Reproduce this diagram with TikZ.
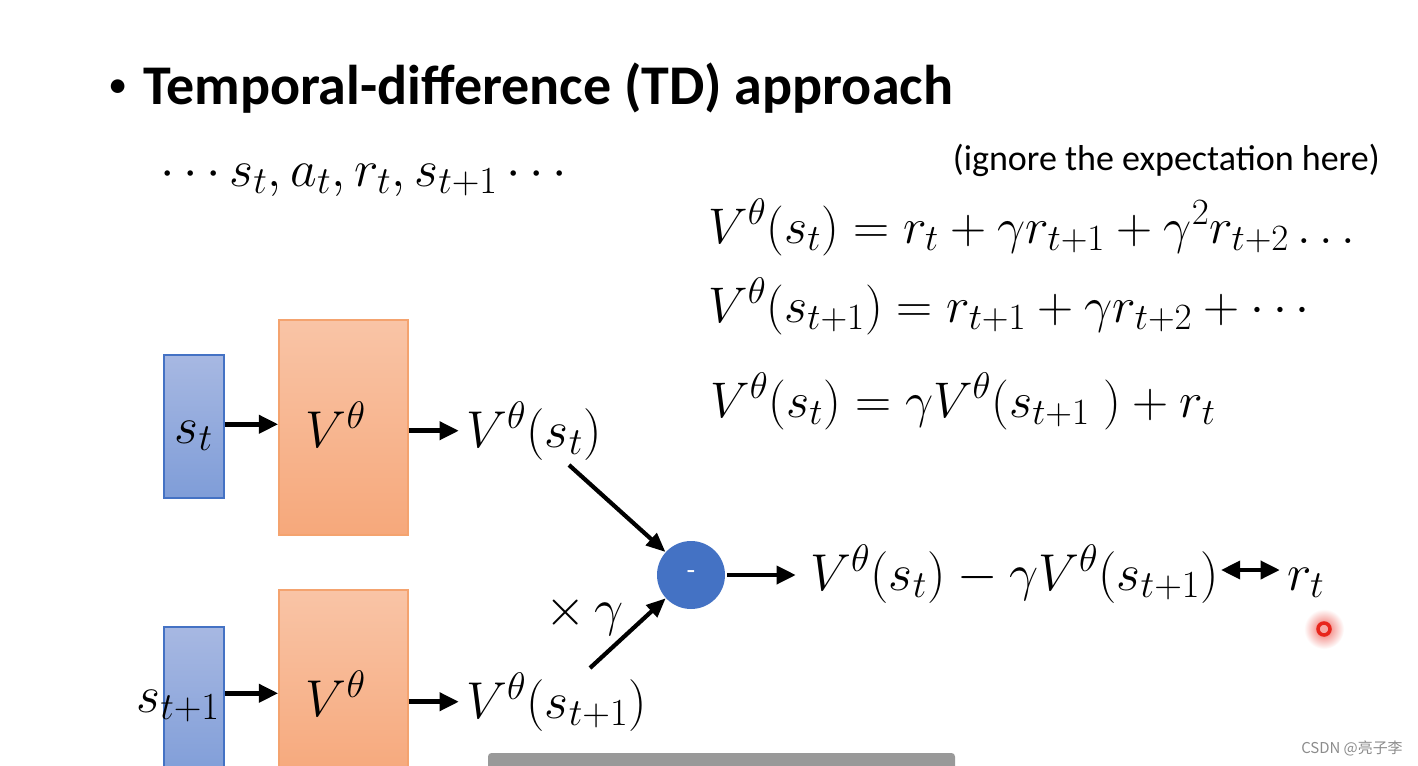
\RequirePackage{fix-cm}
\documentclass[tikz,border=0pt]{standalone}
\usepackage{fontspec}
\setmainfont{Carlito}
\newfontfamily\cjkfont{Noto Sans CJK SC}
\usetikzlibrary{arrows.meta,fit}
\renewcommand\defaultscriptratio{.74}
\definecolor{blueTop}{HTML}{A7B8E2}
\definecolor{blueBot}{HTML}{7F9DD8}
\definecolor{blueBorder}{HTML}{4472C4}
\definecolor{orangeTop}{HTML}{F9C4A6}
\definecolor{orangeBot}{HTML}{F6A87B}
\definecolor{orangeBorder}{HTML}{F4A36F}
\definecolor{barGray}{HTML}{999999}
\definecolor{wmGray}{HTML}{8C8C8C}
\definecolor{dotRed}{HTML}{E8261C}
\begin{document}
\begin{tikzpicture}[x=0.02cm,y=-0.02cm,
  mt/.style={inner sep=0pt, font=\fontsize{29.5}{34}\selectfont, anchor=base west},
  eqt/.style={inner sep=0pt, font=\fontsize{28.5}{34}\selectfont, anchor=base west},
  bluebox/.style={draw=blueBorder, line width=0.8pt, top color=blueTop, bottom color=blueBot, inner sep=0pt},
  orangebox/.style={draw=orangeBorder, line width=0.8pt, top color=orangeTop, bottom color=orangeBot, inner sep=0pt},
  arr/.style={line width=2.8pt, -{Triangle[length=11pt,width=10pt]}},
  darr/.style={line width=2.8pt, {Triangle[length=11pt,width=10pt]}-{Triangle[length=11pt,width=10pt]}},
  diag/.style={line width=2.4pt, -{Triangle[length=11pt,width=9pt]}}]
\useasboundingbox (0,0) rectangle (1418,765);
\clip (0,0) rectangle (1418,765);
\fill[white] (0,0) rectangle (1418,765);

% title
\node[anchor=center, inner sep=0pt, font=\fontsize{22}{26}\selectfont] (bul) at (118,89) {•};
\node[anchor=base west, inner sep=0pt, font=\bfseries\fontsize{31.9}{38}\selectfont] (title) at (143,104) {Temporal-difference (TD) approach};
\node[mt, font=\fontsize{29.5}{34}\selectfont] (seq) at (160,186) {$\cdots s_t, a_t, r_t, s_{t+1} \cdots$};
\node[anchor=base east, inner sep=0pt, font=\fontsize{20.5}{24}\selectfont] (ign) at (1380,170) {(ignore the expectation here)};

% equations
\node[eqt] (eq1) at (708,243) {$V^\theta(s_t) = r_t + \gamma r_{t+1} + \gamma^2 r_{t+2} \ldots$};
\node[eqt] (eq2) at (708,322) {$V^\theta(s_{t+1}) = r_{t+1} + \gamma r_{t+2} + \cdots$};
\node[eqt] (eq3) at (710,417) {$V^\theta(s_t) = \gamma V^\theta(s_{t+1}\;) + r_t$};

% top row
\node[bluebox, fit={(164,355)(224,498)}] (b1) {};
\node[orangebox, fit={(279,320)(408,535)}] (o1) {};
\node[mt, anchor=base] (stl) at (194,443) {$s_t$};
\node[mt, anchor=base] (vl1) at (336,447) {$V^\theta$};
\node[mt] (vst) at (466,447) {$V^\theta(s_t)$};

% bottom row
\node[bluebox, fit={(164,627)(224,780)}] (b2) {};
\node[orangebox, fit={(279,590)(408,780)}] (o2) {};
\node[mt, anchor=base] (vl2) at (336,716) {$V^\theta$};
\node[mt] (vst1) at (466,718) {$V^\theta(s_{t+1})$};
\node[mt, anchor=base west] (stl2) at (136,712) {$s_{t+1}$};

% arrows
\draw[arr] (b1.east |- vl1.center) -- (o1.west |- vl1.center);
\draw[arr] (o1.east |- vst.center) -- ([xshift=-4pt]vst.west);
\draw[arr] (b2.east |- vl2.center) -- (o2.west |- vl2.center);
\draw[arr] (o2.east |- vst1.center) -- ([xshift=-4pt]vst1.west);

% minus node
\node[circle, fill=blueBorder, minimum size=1.36cm, inner sep=0pt, text=white, font=\fontsize{16}{18}\selectfont] (minus) at (691,575) {-};
\coordinate (d1) at (569,465);
\coordinate (d2) at (590,668);
\draw[diag] (d1) -- (minus);
\draw[diag] (d2) -- (minus);
\node[mt] (xg) at (545,625) {$\times\,\gamma$};

\node[mt] (diff) at (810,590) {$V^\theta(s_t) - \gamma V^\theta(s_{t+1})$};
\node[mt] (rt) at (1287,590) {$r_t$};
\draw[arr, shorten <=1pt] (minus.east) -- ([xshift=-8pt]diff.west |- minus.center);
\draw[darr] ([xshift=1pt]diff.east |- 0,570) -- ([xshift=-4pt]rt.west |- 0,570);

% laser pointer dot
\shade[inner color=dotRed!70, outer color=white] (1324,629) circle (20);
\draw[dotRed, line width=2pt, fill=dotRed!40] (1324,629) circle (6);

% bottom bar and watermark
\fill[barGray, rounded corners=2pt] (488,753) rectangle (955,775);
\node[anchor=base east, inner sep=0pt, text=wmGray, font=\cjkfont\fontsize{8.5}{10}\selectfont] (wm) at (1403,753) {CSDN @亮子李};
\end{tikzpicture}
\end{document}
